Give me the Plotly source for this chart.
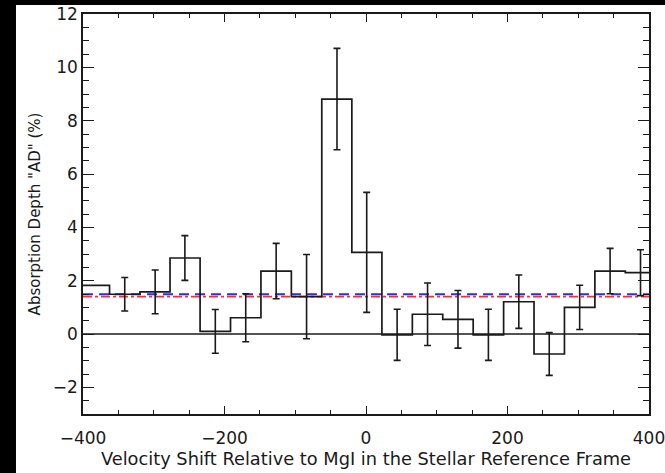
import plotly.graph_objects as go

# Bin centres (km/s), absorption depth (%) and 1-sigma errors
velocity = [-384, -341, -298, -256, -213, -170, -127, -84, -41, 1, 44, 87, 130, 173, 216, 259, 302, 345, 388]
depth = [1.82, 1.49, 1.58, 2.85, 0.10, 0.61, 2.36, 1.40, 8.81, 3.06, -0.03, 0.74, 0.55, -0.03, 1.21, -0.75, 1.00, 2.36, 2.30]
err = [None, 0.63, 0.82, 0.84, 0.82, 0.90, 1.04, 1.58, 1.90, 2.25, 0.96, 1.17, 1.08, 0.96, 1.00, 0.80, 0.83, 0.85, 0.86]
mean_blue = 1.49
mean_red = 1.40

x_range = [-400, 400]
y_range = [-3, 12]

# bin edges from centres
edges = [velocity[0] - (velocity[1] - velocity[0]) / 2]
for a, b in zip(velocity[:-1], velocity[1:]):
    edges.append((a + b) / 2)
edges.append(velocity[-1] + (velocity[-1] - velocity[-2]) / 2)
step_y = depth + [depth[-1]]

err_v = [v for v, e in zip(velocity, err) if e is not None]
err_d = [d for d, e in zip(depth, err) if e is not None]
err_e = [e for e in err if e is not None]

ink = "#1a1a1a"

fig = go.Figure()
fig.add_trace(go.Scatter(x=x_range, y=[0, 0], mode="lines",
                         line=dict(color=ink, width=1.6), showlegend=False))
fig.add_trace(go.Scatter(x=x_range, y=[mean_red, mean_red], mode="lines",
                         line=dict(color="#ff2a2a", width=1.8, dash="dashdot"), showlegend=False))
fig.add_trace(go.Scatter(x=x_range, y=[mean_blue, mean_blue], mode="lines",
                         line=dict(color="#2a2aff", width=1.8, dash="10px,6px"), showlegend=False))
fig.add_trace(go.Scatter(x=edges, y=step_y, mode="lines", line_shape="hv",
                         line=dict(color=ink, width=1.7), showlegend=False))
fig.add_trace(go.Scatter(x=err_v, y=err_d, mode="markers",
                         marker=dict(size=0.1, color="rgba(0,0,0,0)"),
                         error_y=dict(type="data", array=err_e, color=ink,
                                      thickness=1.6, width=3.5),
                         showlegend=False))

tick_font = dict(family="DejaVu Sans, sans-serif", size=17, color=ink)
xtitle_font = dict(family="DejaVu Sans, sans-serif", size=17.8, color=ink)
ytitle_font = dict(family="DejaVu Sans, sans-serif", size=15, color=ink)

fig.update_layout(
    width=665, height=473,
    margin=dict(l=83, r=16, t=14, b=59, autoexpand=False),
    paper_bgcolor="white",
    plot_bgcolor="white",
    font=tick_font,
    shapes=[
        dict(type="rect", xref="paper", yref="paper",
             x0=-0.2, x1=-0.1184, y0=-0.2, y1=1.1,
             fillcolor="black", line=dict(width=0), layer="below"),
        dict(type="rect", xref="paper", yref="paper",
             x0=-0.2, x1=1.1, y0=1.0225, y1=1.1,
             fillcolor="black", line=dict(width=0), layer="below"),
    ],
)
fig.update_xaxes(
    range=x_range, showgrid=False, zeroline=False, automargin=False,
    showline=True, linecolor=ink, linewidth=1.6, mirror="allticks",
    ticks="inside", ticklen=8, tickwidth=1.4, tickcolor=ink,
    tickmode="linear", tick0=-400, dtick=200, ticklabeloverflow="allow",
    ticklabelstandoff=8,
    minor=dict(ticks="inside", ticklen=4, tickwidth=1.2, tickcolor=ink, dtick=50, showgrid=False),
    title=dict(text="Velocity Shift Relative to MgI in the Stellar Reference Frame",
               font=xtitle_font, standoff=0),
    tickfont=tick_font,
)
fig.update_yaxes(
    range=y_range, showgrid=False, zeroline=False, automargin=False,
    showline=True, linecolor=ink, linewidth=1.6, mirror="allticks",
    ticks="inside", ticklen=11, tickwidth=1.4, tickcolor=ink,
    tickmode="linear", tick0=-2, dtick=2, ticklabeloverflow="allow",
    minor=dict(ticks="inside", ticklen=6, tickwidth=1.2, tickcolor=ink, dtick=0.5, showgrid=False),
    title=dict(text='Absorption Depth "AD" (%)', font=ytitle_font, standoff=8),
    tickfont=tick_font,
)

fig.write_html("out.html")
